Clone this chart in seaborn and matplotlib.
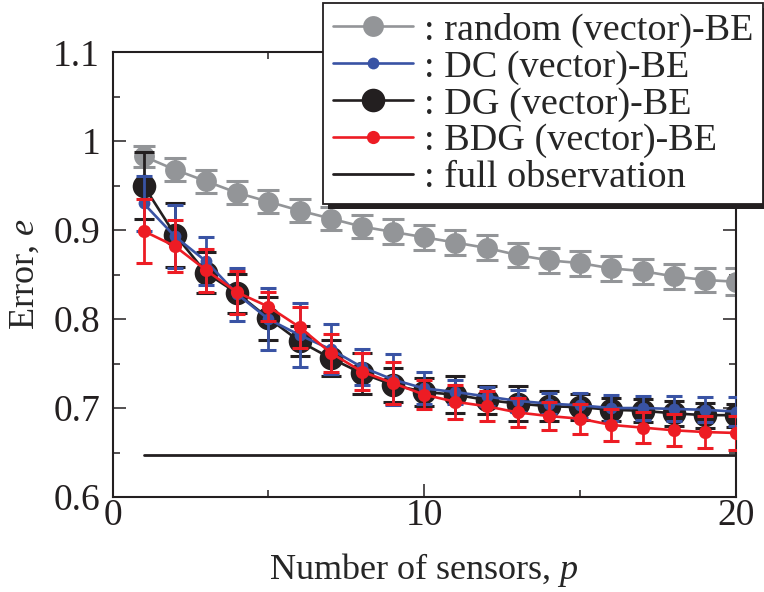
import numpy as np
import matplotlib
matplotlib.use("Agg")
import matplotlib.pyplot as plt
import seaborn as sns
from matplotlib.patches import Rectangle
from matplotlib.ticker import MultipleLocator, FuncFormatter

# Estilo
sns.set_theme(style="ticks")
plt.rcParams["font.family"] = ["Liberation Serif", "DejaVu Serif"]
plt.rcParams["mathtext.fontset"] = "custom"
plt.rcParams["mathtext.it"] = "Liberation Serif:italic"
plt.rcParams["mathtext.rm"] = "Liberation Serif"

# Datos
sensors = list(range(1, 21))

random_be = [0.983, 0.968, 0.955, 0.942, 0.932, 0.922, 0.913, 0.904, 0.898, 0.892,
             0.886, 0.880, 0.872, 0.866, 0.863, 0.857, 0.854, 0.848, 0.844, 0.842]
random_err = [0.012, 0.013, 0.013, 0.013, 0.013, 0.013, 0.013, 0.013, 0.014, 0.014,
              0.014, 0.014, 0.013, 0.014, 0.014, 0.014, 0.014, 0.014, 0.014, 0.015]

dc_be = [0.930, 0.893, 0.865, 0.828, 0.800, 0.782, 0.766, 0.746, 0.732, 0.722,
         0.718, 0.713, 0.708, 0.705, 0.703, 0.700, 0.700, 0.699, 0.698, 0.696]
dc_err = [0.031, 0.035, 0.027, 0.030, 0.035, 0.036, 0.028, 0.020, 0.029, 0.018,
          0.013, 0.011, 0.012, 0.012, 0.014, 0.015, 0.014, 0.014, 0.014, 0.016]

dg_be = [0.950, 0.895, 0.852, 0.829, 0.801, 0.775, 0.756, 0.739, 0.726, 0.718,
         0.715, 0.709, 0.705, 0.702, 0.701, 0.698, 0.697, 0.694, 0.692, 0.692]
dg_err = [0.038, 0.036, 0.023, 0.022, 0.024, 0.017, 0.020, 0.023, 0.019, 0.016,
          0.021, 0.016, 0.020, 0.017, 0.015, 0.013, 0.013, 0.014, 0.014, 0.013]

bdg_be = [0.899, 0.882, 0.855, 0.830, 0.814, 0.791, 0.762, 0.741, 0.728, 0.715,
          0.707, 0.702, 0.695, 0.691, 0.688, 0.681, 0.678, 0.675, 0.673, 0.672]
bdg_err = [0.036, 0.029, 0.024, 0.024, 0.016, 0.023, 0.021, 0.021, 0.024, 0.016,
           0.019, 0.017, 0.016, 0.016, 0.017, 0.018, 0.017, 0.018, 0.018, 0.019]

full_x = [1, 20]
full_obs = [0.647, 0.647]

# (datos, error, color, tamaño marcador, capsize, etiqueta, zorder)
series = [
    (random_be, random_err, "#939598", 15, 8, ": random (vector)-BE", 2),
    (dc_be, dc_err, "#3953a4", 8.5, 5.5, ": DC (vector)-BE", 4),
    (dg_be, dg_err, "#231f20", 17, 7.5, ": DG (vector)-BE", 3),
    (bdg_be, bdg_err, "#ed1c24", 9.5, 5.5, ": BDG (vector)-BE", 5),
]

fig = plt.figure(figsize=(7.64, 5.92), dpi=100)
ax = fig.add_axes([0.1473, 0.1605, 0.8161, 0.7512])

for vals, err, col, ms, cs, lab, z in series:
    ax.errorbar(sensors, vals, yerr=err, fmt="none", ecolor=col, elinewidth=2,
                capsize=cs, capthick=2.2, zorder=z)
    sns.lineplot(x=sensors, y=vals, ax=ax, color=col, linewidth=1.9, marker="o",
                 markersize=ms, markeredgewidth=0, label=lab, zorder=z)

sns.lineplot(x=full_x, y=full_obs, ax=ax, color="#231f20", linewidth=2,
             label=": full observation", zorder=1)

ax.set_xlim(0, 20)
ax.set_ylim(0.6, 1.1)
ax.xaxis.set_major_locator(MultipleLocator(10))
ax.xaxis.set_minor_locator(MultipleLocator(5))
ax.yaxis.set_major_locator(MultipleLocator(0.1))
ax.yaxis.set_minor_locator(MultipleLocator(0.05))
ax.yaxis.set_major_formatter(FuncFormatter(lambda v, p: f"{v:g}"))

ax.tick_params(which="both", direction="in", top=True, right=True, width=1.1,
               colors="#231f20", labelsize=27)
ax.tick_params(which="major", length=9.5)
ax.tick_params(which="minor", length=4.8)
ax.tick_params(axis="x", pad=1)
ax.tick_params(axis="y", pad=9)
for sp in ax.spines.values():
    sp.set_linewidth(1.5)
    sp.set_color("#231f20")

ax.set_xlabel(r"Number of sensors, $p$", fontsize=26, labelpad=13)
ax.set_ylabel(r"Error, $e$", fontsize=26, labelpad=8)

leg = ax.legend(loc="upper left", bbox_to_anchor=(0.4228, 0.9944),
                bbox_transform=fig.transFigure, borderaxespad=0,
                fontsize=27.5, frameon=True, fancybox=False, framealpha=1,
                edgecolor="#231f20", handlelength=2.1, handletextpad=0.3,
                labelspacing=0.05, borderpad=0.25)
leg.get_frame().set_linewidth(1.3)
leg.set_zorder(10)

# sombra negra del cuadro de leyenda
fig.canvas.draw()
bb = leg.get_window_extent()
shadow = Rectangle((bb.x0 + 5, bb.y0 - 5), bb.width, bb.height, transform=None,
                   facecolor="#231f20", edgecolor="none", clip_on=False, zorder=9.5)
ax.add_artist(shadow)

fig.savefig("out.png", dpi=100)
